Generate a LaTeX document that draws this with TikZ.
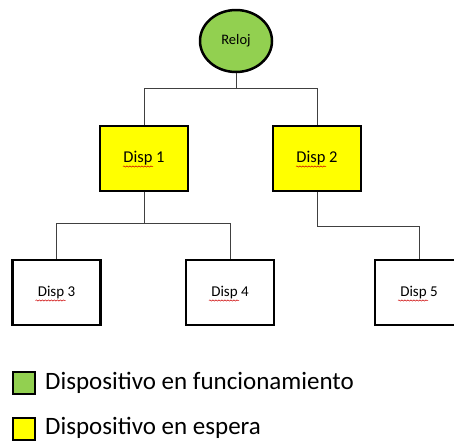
\documentclass[tikz,border=0pt]{standalone}
\usepackage{fontspec}
\setmainfont{Carlito}
\usepackage{tikz}
\usetikzlibrary{positioning, shapes.geometric, decorations.pathmorphing}

\definecolor{verde}{HTML}{92D050}
\definecolor{amarillo}{HTML}{FFFF00}
\definecolor{linea}{HTML}{404040}

\tikzset{
	disp/.style={draw=black, rectangle, line width=2.5pt, minimum width=88pt, minimum height=65pt, font=\fontsize{15}{15}\selectfont},
	reloj/.style={draw=black, ellipse, line width=2.5pt, fill=verde, minimum width=72pt, minimum height=62pt, font=\fontsize{14.5}{15}\selectfont},
	leg/.style={draw=black, line width=2pt, minimum size=22pt, inner sep=0pt},
	legtext/.style={anchor=base west, inner sep=0pt, font=\fontsize{25}{25}\selectfont},
	wire/.style={draw=linea, line width=1pt},
	squiggle/.style={draw=red!80!black, line width=0.5pt, decorate, decoration={snake, amplitude=0.6pt, segment length=3pt}}
}

\begin{document}
\begin{tikzpicture}[x=1pt, y=-1pt]
	\useasboundingbox (0,0) rectangle (454,440);
	
	% reloj y dispositivos
	\node[reloj] (clk) at (236,41) {Reloj};
	\node[disp, fill=amarillo, font=\fontsize{16.5}{17}\selectfont] (d1) at (144,158.5) {Disp 1};
	\node[disp, fill=amarillo, font=\fontsize{16.5}{17}\selectfont] (d2) at (317,158.5) {Disp 2};
	\node[disp] (d3) at (56.5,292.5) {Disp 3};
	\node[disp] (d4) at (230,292.5) {Disp 4};
	\node[disp] (d5) at (419,292.5) {Disp 5};
	
	% conexiones
	\draw[wire] (clk.south) -- ++(0,15.5) coordinate (j0);
	\draw[wire] (j0) -| (d1.north);
	\draw[wire] (j0) -| (d2.north);
	\draw[wire] (d1.south) -- ++(0,31) coordinate (j1);
	\draw[wire] (j1) -| (d3.north);
	\draw[wire] (j1) -| (d4.north);
	\draw[wire] (d2.south) -- ++(0,34) -| (d5.north);
	
	% subrayado ortografico
	\foreach \n in {d1,d2,d3,d4,d5}
		\draw[squiggle] ([shift={(-21,8)}]\n.center) -- ++(30,0);
	
	% leyenda
	\node[leg, fill=verde] (lg1) at (24,382.5) {};
	\node[legtext] (lt1) at (45,389.5) {Dispositivo en funcionamiento};
	\node[leg, fill=amarillo] (lg2) at (24,428.5) {};
	\node[legtext] (lt2) at (45,434) {Dispositivo en espera};
\end{tikzpicture}
\end{document}
